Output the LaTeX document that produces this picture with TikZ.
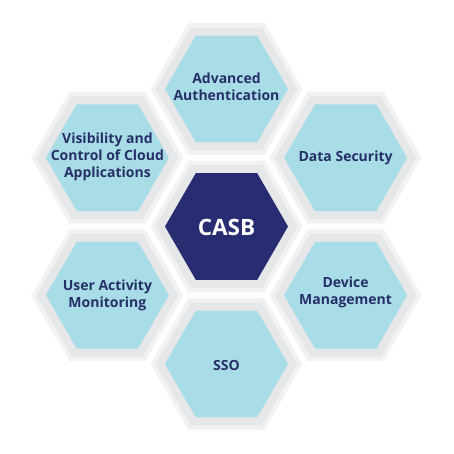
\documentclass[tikz,border=0pt]{standalone}
\usepackage{fontspec}
\setmainfont{Open Sans}
\definecolor{navy}{RGB}{40,44,112}
\definecolor{txtnavy}{RGB}{38,48,104}
\definecolor{lblue}{RGB}{168,220,230}
\definecolor{greyout}{RGB}{241,242,243}
\definecolor{greyin}{RGB}{230,231,233}
\newcommand\hexshape[4]{% x, y, radius, style
  \path[#4] ({#1+#3},{#2}) -- ({#1+0.5*#3},{#2+0.8660*#3}) -- ({#1-0.5*#3},{#2+0.8660*#3})
    -- ({#1-#3},{#2}) -- ({#1-0.5*#3},{#2-0.8660*#3}) -- ({#1+0.5*#3},{#2-0.8660*#3}) -- cycle;}
\newcommand\hexcell[3]{% x, y, inner style
  \hexshape{#1}{#2}{76}{fill=greyout}
  \hexshape{#1}{#2}{71}{fill=greyin}
  \hexshape{#1}{#2}{61.5}{#3}}
\tikzset{
  lbl/.style={font=\bfseries\fontsize{14}{17}\selectfont, text=txtnavy, align=center},
  mainlbl/.style={font=\bfseries\fontsize{22.5}{26}\selectfont, text=white, align=center}
}
\begin{document}
\begin{tikzpicture}[x=1pt,y=-1pt]
\useasboundingbox (0,0) rectangle (454,454);
\fill[white] (0,0) rectangle (454,454);
\hexcell{226.5}{226.5}{fill=navy}
\hexcell{226.5}{89}{fill=lblue}
\hexcell{226.5}{364}{fill=lblue}
\hexcell{345.6}{157.75}{fill=lblue}
\hexcell{345.6}{295.25}{fill=lblue}
\hexcell{107.4}{157.75}{fill=lblue}
\hexcell{107.4}{295.25}{fill=lblue}
\node[mainlbl] (casb) at (226.5,227) {CASB};
\node[lbl] (auth) at (226.5,87) {Advanced\\Authentication};
\node[lbl] (sso) at (226.5,365) {SSO};
\node[lbl] (data) at (345.6,158) {Data Security};
\node[lbl] (dev) at (345.6,292) {Device\\Management};
\node[lbl] (vis) at (107.4,157) {Visibility and\\Control of Cloud\\Applications};
\node[lbl] (user) at (107.4,295) {User Activity\\Monitoring};
\end{tikzpicture}
\end{document}
